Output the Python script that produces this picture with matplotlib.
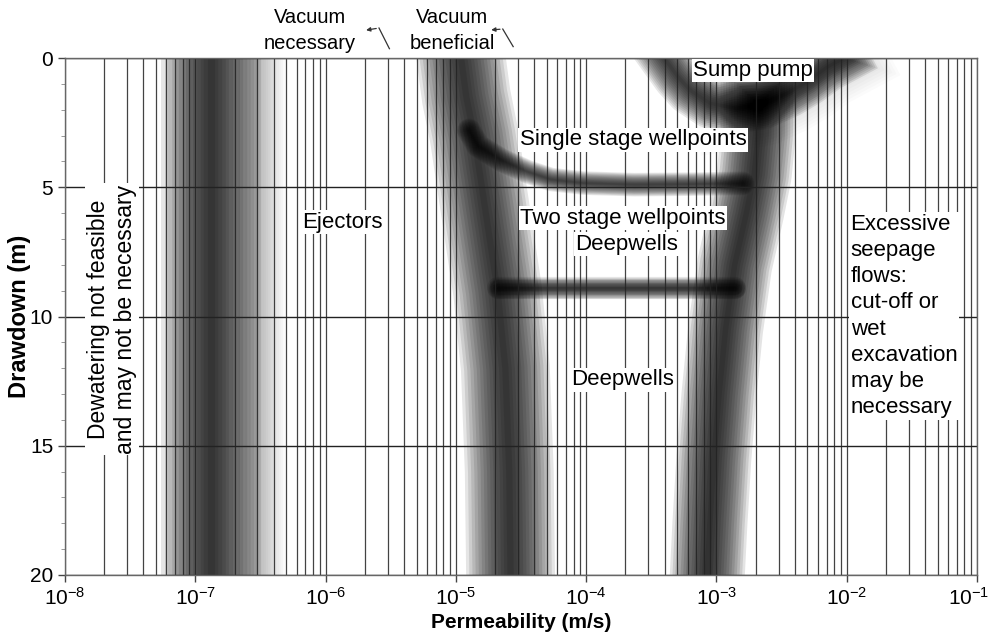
import matplotlib.pyplot as plt
import numpy as np
from matplotlib.ticker import LogLocator, NullFormatter, FixedLocator
from matplotlib.transforms import ScaledTranslation

plt.rcParams['font.family'] = ['Liberation Sans', 'DejaVu Sans']
plt.rcParams['mathtext.default'] = 'regular'

# boundary bands as (log10 permeability, drawdown m)
ejector_logk = [-6.88, -6.88]
ejector_dd = [0, 20]
ejector_tail_logk = [-6.52, -6.52]
ejector_tail_dd = [0, 20]

left_logk = [-4.96, -4.92, -4.86, -4.80, -4.74, -4.68, -4.62, -4.59, -4.58]
left_dd = [0, 1.5, 3, 5, 7, 9, 12, 16, 20]

single_logk = [-4.90, -4.83, -4.65, -4.45, -4.27, -4.02, -3.63, -3.2, -2.80]
single_dd = [2.8, 3.4, 3.95, 4.4, 4.7, 4.84, 4.9, 4.88, 4.85]

two_stage_logk = [-4.68, -2.86]
two_stage_dd = [8.9, 8.9]

sump_logk = [-3.40, -3.30, -3.20, -3.05, -2.85, -2.65, -2.45, -2.30, -2.15, -2.02]
sump_dd = [0, 0.7, 1.25, 1.75, 1.95, 1.8, 1.35, 0.9, 0.35, 0]

right_logk = [-2.68, -2.68, -2.71, -2.77, -2.86, -2.93, -2.98, -3.02, -3.05, -3.07]
right_dd = [1.8, 3, 4.5, 6, 8, 10.5, 13, 15.5, 18, 20]

decades = [-8, -7, -6, -5, -4, -3, -2, -1]
depth_ticks = [0, 5, 10, 15, 20]

fig = plt.figure(figsize=(9.92, 6.35), dpi=100)
ax = fig.add_axes([65 / 992, 60 / 635, 912 / 992, 517 / 635])
ax.set_xscale('log')


def soft_line(lk, dd, width, strength=0.10, steps=14, cap='round'):
    x = 10.0 ** np.array(lk)
    for i in range(steps):
        ax.plot(x, dd, color='black', lw=width * (1 - i / steps), alpha=strength,
                solid_capstyle=cap, solid_joinstyle='round', zorder=1)


soft_line(ejector_logk, ejector_dd, 72, 0.10, cap='projecting')
soft_line(ejector_tail_logk, ejector_tail_dd, 38, 0.02, cap='projecting')
soft_line(left_logk, left_dd, 64, 0.10, cap='projecting')
soft_line(right_logk, right_dd, 54, 0.105, cap='projecting')
soft_line(sump_logk, sump_dd, 36, 0.095, cap='projecting')
soft_line(sump_logk[4:], sump_dd[4:], 60, 0.015, cap='projecting')
soft_line(single_logk, single_dd, 17, 0.09)
soft_line(two_stage_logk, two_stage_dd, 16, 0.10)

ax.set_xlim(1e-8, 1e-1)
ax.set_ylim(20, 0)

ax.xaxis.set_major_locator(FixedLocator([10.0 ** d for d in decades]))
ax.set_xticklabels(['$10^{%d}$' % d for d in decades])
ax.xaxis.set_minor_locator(LogLocator(base=10, subs=np.arange(2, 10), numticks=100))
ax.xaxis.set_minor_formatter(NullFormatter())
ax.set_yticks(depth_ticks)
ax.yaxis.set_minor_locator(FixedLocator(np.arange(0, 21, 1)))

ax.tick_params(axis='both', which='major', labelsize=15, length=5, width=1, color='#444')
ax.tick_params(axis='x', which='minor', length=0)
ax.tick_params(axis='y', which='minor', length=3, color='#888')

last = ax.get_xticklabels()[-1]
last.set_transform(last.get_transform() + ScaledTranslation(-6 / 72, 0, fig.dpi_scale_trans))

ax.grid(True, axis='x', which='both', color='#222', lw=0.9, alpha=0.85)
ax.grid(True, axis='y', which='major', color='#222', lw=1.0)
for s in ax.spines.values():
    s.set_color('#666')
    s.set_linewidth(1.0)

ax.set_xlabel('Permeability (m/s)', fontsize=15, fontweight='bold', labelpad=3)
ax.set_ylabel('Drawdown (m)', fontsize=17, fontweight='bold')
ax.yaxis.set_label_coords(-0.037, 0.5)

box = dict(facecolor='white', edgecolor='none', pad=1.0)
tkw = dict(fontsize=16, ha='center', va='center', bbox=box, zorder=5)
ax.text(10 ** -2.72, 0.48, 'Sump pump', **tkw)
ax.text(10 ** -3.64, 3.17, 'Single stage wellpoints', **tkw)
ax.text(10 ** -3.72, 6.2, 'Two stage wellpoints', **tkw)
ax.text(10 ** -3.69, 7.2, 'Deepwells', **tkw)
ax.text(10 ** -3.72, 12.45, 'Deepwells', **tkw)
ax.text(10 ** -5.87, 6.35, 'Ejectors', **tkw)
ax.text(10 ** -1.97, 9.98,
        'Excessive\nseepage\nflows:\ncut-off or\nwet\nexcavation\nmay be\nnecessary',
        fontsize=16, ha='left', va='center', linespacing=1.33, bbox=box, zorder=5)
ax.text(10 ** -7.64, 10.1, 'Dewatering not feasible\nand may not be necessary',
        fontsize=16.5, ha='center', va='center', rotation=90, linespacing=1.25,
        bbox=box, zorder=5)

# labels above the frame
xt = ax.get_xaxis_transform()
ax.text(10 ** -6.12, 1.053, 'Vacuum\nnecessary', transform=xt,
        fontsize=14.5, ha='center', va='center', linespacing=1.45)
ax.text(10 ** -5.03, 1.053, 'Vacuum\nbeneficial', transform=xt,
        fontsize=14.5, ha='center', va='center', linespacing=1.45)
ax.annotate('', xy=(10 ** -5.71, 1.053), xytext=(10 ** -5.59, 1.058), xycoords=xt,
            arrowprops=dict(arrowstyle='-|>', color='#333', lw=0.9, mutation_scale=6))
ax.plot([10 ** -5.59, 10 ** -5.51], [1.058, 1.018], color='#333', lw=0.9,
        transform=xt, clip_on=False)
ax.annotate('', xy=(10 ** -4.75, 1.054), xytext=(10 ** -4.64, 1.056), xycoords=xt,
            arrowprops=dict(arrowstyle='-|>', color='#333', lw=0.9, mutation_scale=6))
ax.plot([10 ** -4.64, 10 ** -4.56], [1.056, 1.022], color='#333', lw=0.9,
        transform=xt, clip_on=False)

fig.savefig('out.png', dpi=100)
